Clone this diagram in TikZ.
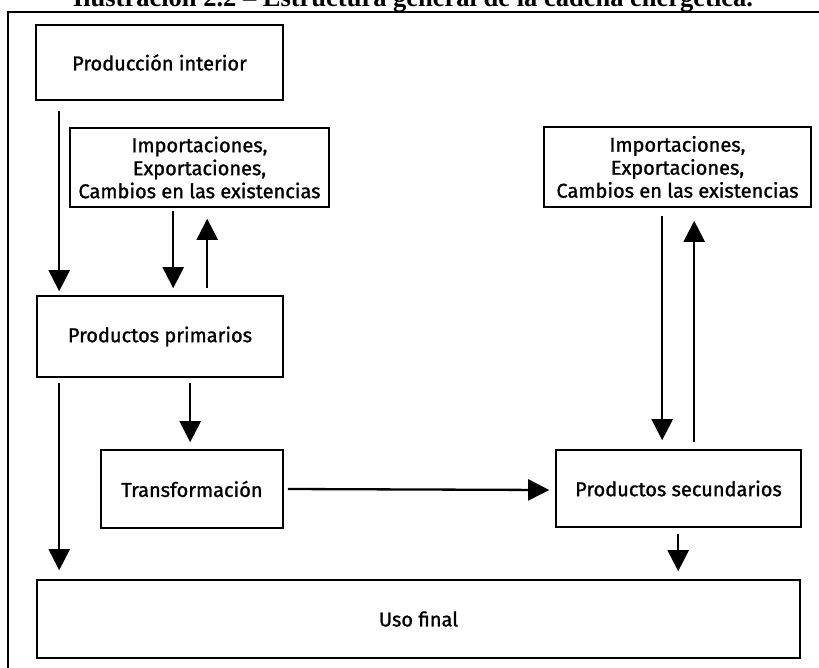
\documentclass[tikz,border=0pt]{standalone}
\usepackage{fontspec}
\setmainfont{Fira Sans}
\newfontfamily\boxfont{Fira Sans}[FakeBold=1.2]
\newfontfamily\titlefont[Ligatures=TeX]{Liberation Serif}
\usetikzlibrary{arrows.meta}

\tikzset{
  box/.style={draw, line width=1.6pt, rectangle, inner sep=0pt, align=center,
    font=\boxfont\fontsize{20}{23}\selectfont},
  arr/.style={line width=2.3pt, -{Triangle[width=21pt,length=21pt]}},
}

\begin{document}
\begin{tikzpicture}[x=1pt,y=-1pt]
  \useasboundingbox (0,0) rectangle (819,667);
  \clip (0,0) rectangle (819,667);

  % caption above the frame (only its lower part shows)
  \node[anchor=base, font=\titlefont\bfseries\fontsize{26.5}{30}\selectfont, inner sep=0pt]
    (title) at (413,6.5) {Ilustración 2.2 – Estructura general de la cadena energética.};

  % outer frame
  \draw[line width=2.2pt] (8,680) -- (8,12) -- (830,12);

  % boxes
  \node[box, minimum width=247, minimum height=75] (pi) at (159.5,62.5) {Producción interior};
  \node[box, minimum width=259, minimum height=79] (il) at (199.5,167.5)
    {Importaciones,\\Exportaciones,\\Cambios en las existencias};
  \node[box, minimum width=267, minimum height=80] (ir) at (677.5,167)
    {Importaciones,\\Exportaciones,\\Cambios en las existencias};
  \node[box, minimum width=246, minimum height=81] (pp) at (160,336.5) {Productos primarios};
  \node[box, minimum width=182, minimum height=78] (tr) at (192,489) {Transformación};
  \node[box, minimum width=245, minimum height=77] (ps) at (678.5,488.5) {Productos secundarios};
  \node[box, minimum width=763, minimum height=78] (uf) at (418.5,619) {Uso final};

  % flows
  \draw[arr] ([xshift=24pt,yshift=-10pt]pi.south west) -- ([xshift=23pt,yshift=4pt]pp.north west);
  \draw[arr] ([xshift=104pt,yshift=-3pt]il.south west) -- ([xshift=137pt,yshift=7pt]pp.north west);
  \draw[arr] ([xshift=171pt,yshift=7pt]pp.north west) -- ([xshift=138pt,yshift=-11pt]il.south west);
  \draw[arr] ([xshift=23pt,yshift=-5pt]pp.south west) -- ([xshift=23pt,yshift=9pt]uf.north west);
  \draw[arr] ([xshift=154pt,yshift=-5pt]pp.south west) -- ([xshift=90pt,yshift=7pt]tr.north west);
  \draw[arr] ([xshift=4pt]tr.east) -- ([xshift=-6pt,yshift=-1.5pt]ps.west);
  \draw[arr] ([xshift=119pt,yshift=-8pt]ir.south west) -- ([xshift=107pt,yshift=9pt]ps.north west);
  \draw[arr] ([xshift=139pt,yshift=7pt]ps.north west) -- ([xshift=151pt,yshift=-13pt]ir.south west);
  \draw[arr] ([xshift=123pt,yshift=-6pt]ps.south west) -- ([xshift=642pt,yshift=8pt]uf.north west);
\end{tikzpicture}
\end{document}
